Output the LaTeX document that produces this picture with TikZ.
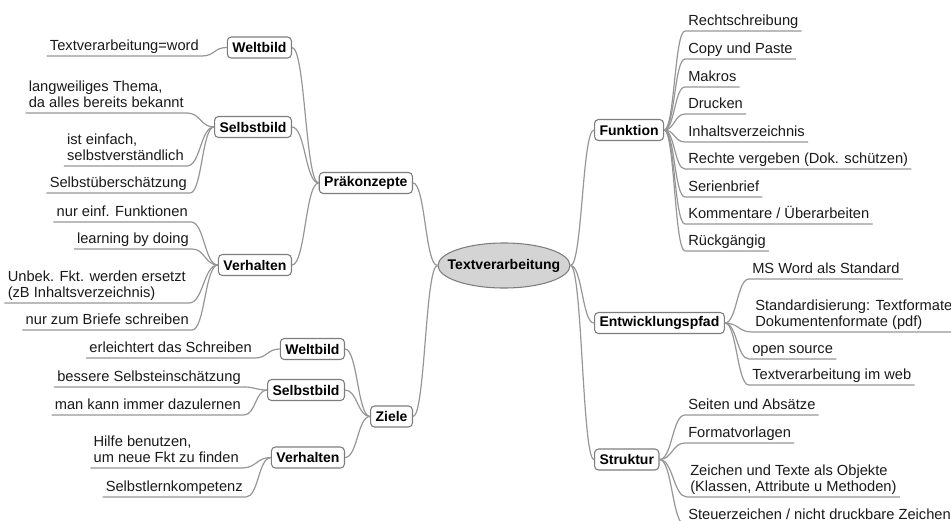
\documentclass[tikz,border=0pt]{standalone}
\usepackage{fontspec}
\setmainfont{Liberation Sans}
\usetikzlibrary{shapes.geometric,calc}
\definecolor{lc}{RGB}{150,150,150}
\definecolor{bc}{RGB}{125,125,125}
\definecolor{ef}{RGB}{212,212,212}
\definecolor{tc}{RGB}{25,25,25}
\newcommand\ml[2]{\begin{tabular}[b]{@{}l@{}}#1\\#2\end{tabular}}
\newcommand\mmlink[2]{\draw[conn] let \p1=(#1), \p2=(#2) in (\p1) .. controls ({0.5*\x1+0.5*\x2},\y1) and ({0.5*\x1+0.5*\x2},\y2) .. (\p2);}
\newcommand\mmleafR[2]{\draw[conn] let \p1=(#1.east), \p2=(#2.south west) in (\p1) .. controls ({0.5*\x1+0.5*\x2},\y1) and ({0.5*\x1+0.5*\x2},\y2) .. (\p2) -- (#2.south east);}
\newcommand\mmleafL[2]{\draw[conn] let \p1=(#1.west), \p2=(#2.south east) in (\p1) .. controls ({0.5*\x1+0.5*\x2},\y1) and ({0.5*\x1+0.5*\x2},\y2) .. (\p2) -- (#2.south west);}
\tikzset{
  conn/.style={draw=lc, line width=0.9pt},
  box/.style={draw=bc, line width=0.8pt, rounded corners=3pt, fill=white, text=black,
    font=\fontsize{10.5}{12}\selectfont\bfseries, inner xsep=3.75pt, inner ysep=0pt, minimum height=15.75pt},
  leaf/.style={font=\fontsize{11}{12.5}\selectfont, text=tc, text depth=0pt, inner ysep=3.75pt, inner xsep=2.25pt},
  rootnode/.style={ellipse, draw=bc, line width=0.8pt, fill=ef, minimum width=99pt, minimum height=33.75pt,
    inner xsep=-8pt, inner ysep=0pt, font=\fontsize{10.5}{12}\selectfont\bfseries}
}
\begin{document}
\begin{tikzpicture}[x=0.75pt,y=-0.75pt]
\useasboundingbox (0,0) rectangle (951,521);
% root and main branches
\node[rootnode] (root) at (504,265.5) {Textverarbeitung};
\node[box,anchor=east] (P) at (413,183) {Präkonzepte};
\node[box,anchor=east] (Z) at (413,416.5) {Ziele};
\node[box,anchor=west] (F) at (594,130) {Funktion};
\node[box,anchor=west] (E) at (594,323) {Entwicklungspfad};
\node[box,anchor=west] (S) at (594,459.5) {Struktur};
\mmlink{root.west}{P.east}
\mmlink{root.west}{Z.east}
\mmlink{root.east}{F.west}
\mmlink{root.east}{E.west}
\mmlink{root.east}{S.west}
% second level left
\node[box,anchor=east] (W1) at (292,47.5) {Weltbild};
\node[box,anchor=east] (S1) at (292,127) {Selbstbild};
\node[box,anchor=east] (V1) at (292,265) {Verhalten};
\node[box,anchor=east] (W2) at (345,349) {Weltbild};
\node[box,anchor=east] (S2) at (345,390) {Selbstbild};
\node[box,anchor=east] (V2) at (345,457.5) {Verhalten};
\mmlink{P.west}{W1.east}
\mmlink{P.west}{S1.east}
\mmlink{P.west}{V1.east}
\mmlink{Z.west}{W2.east}
\mmlink{Z.west}{S2.east}
\mmlink{Z.west}{V2.east}
% leaves left
\node[leaf,anchor=south east] (l1) at (202,56) {Textverarbeitung=word};
\node[leaf,anchor=south east] (l2) at (187,113) {\ml{langweiliges Thema,}{da alles bereits bekannt}};
\node[leaf,anchor=south east] (l3) at (187,166) {\ml{ist einfach,}{selbstverständlich}};
\node[leaf,anchor=south east] (l4) at (190,193) {Selbstüberschätzung};
\node[leaf,anchor=south east] (l5) at (191,222) {nur einf. Funktionen};
\node[leaf,anchor=south east] (l6) at (192,249) {learning by doing};
\node[leaf,anchor=south east] (l7) at (189,303) {\ml{Unbek. Fkt. werden ersetzt}{(zB Inhaltsverzeichnis)}};
\node[leaf,anchor=south east] (l8) at (192,330) {nur zum Briefe schreiben};
\node[leaf,anchor=south east] (l9) at (255,358) {erleichtert das Schreiben};
\node[leaf,anchor=south east] (l10) at (244,387) {bessere Selbsteinschätzung};
\node[leaf,anchor=south east] (l11) at (244,415) {man kann immer dazulernen};
\node[leaf,anchor=south east] (l12) at (242,468) {\ml{Hilfe benutzen,}{um neue Fkt zu finden}};
\node[leaf,anchor=south east] (l13) at (246,497) {Selbstlernkompetenz};
\mmleafL{W1}{l1}
\mmleafL{S1}{l2}
\mmleafL{S1}{l3}
\mmleafL{S1}{l4}
\mmleafL{V1}{l5}
\mmleafL{V1}{l6}
\mmleafL{V1}{l7}
\mmleafL{V1}{l8}
\mmleafL{W2}{l9}
\mmleafL{S2}{l10}
\mmleafL{S2}{l11}
\mmleafL{V2}{l12}
\mmleafL{V2}{l13}
% leaves right: Funktion
\node[leaf,anchor=south west] (f1) at (685,31) {Rechtschreibung};
\node[leaf,anchor=south west] (f2) at (685,59) {Copy und Paste};
\node[leaf,anchor=south west] (f3) at (685,87) {Makros};
\node[leaf,anchor=south west] (f4) at (685,114) {Drucken};
\node[leaf,anchor=south west] (f5) at (685,142) {Inhaltsverzeichnis};
\node[leaf,anchor=south west] (f6) at (685,169) {Rechte vergeben (Dok. schützen)};
\node[leaf,anchor=south west] (f7) at (685,197) {Serienbrief};
\node[leaf,anchor=south west] (f8) at (685,224) {Kommentare / Überarbeiten};
\node[leaf,anchor=south west] (f9) at (685,251) {Rückgängig};
\foreach \i in {1,...,9} {\mmleafR{F}{f\i}}
% Entwicklungspfad
\node[leaf,anchor=south west] (e1) at (749,279) {MS Word als Standard};
\node[leaf,anchor=south west] (e2) at (752,332) {\ml{Standardisierung: Textformate}{Dokumentenformate (pdf)}};
\node[leaf,anchor=south west] (e3) at (749,359) {open source};
\node[leaf,anchor=south west] (e4) at (749,385) {Textverarbeitung im web};
\foreach \i in {1,...,4} {\mmleafR{E}{e\i}}
% Struktur
\node[leaf,anchor=south west] (s1) at (685,415) {Seiten und Absätze};
\node[leaf,anchor=south west] (s2) at (685,443) {Formatvorlagen};
\node[leaf,anchor=south west] (s3) at (687,497) {\ml{Zeichen und Texte als Objekte}{(Klassen, Attribute u Methoden)}};
\node[leaf,anchor=south west] (s4) at (685,525) {Steuerzeichen / nicht druckbare Zeichen};
\foreach \i in {1,...,4} {\mmleafR{S}{s\i}}
\end{tikzpicture}
\end{document}
